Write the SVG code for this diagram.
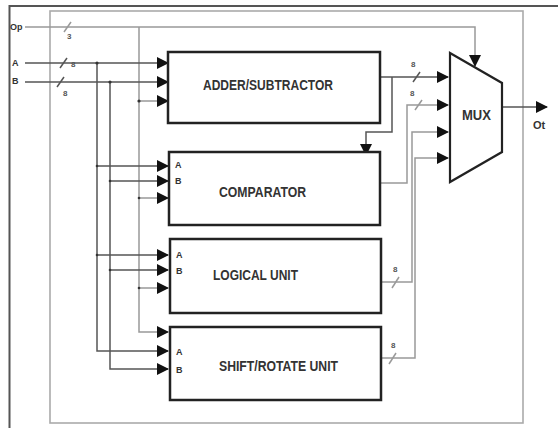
<svg xmlns="http://www.w3.org/2000/svg" width="558" height="428" viewBox="0 0 558 428">
<style>
.box{fill:#fff;stroke:#222;stroke-width:2.5}
.w{fill:none;stroke:#555;stroke-width:1.5}
.g{fill:none;stroke:#999;stroke-width:1.5}
.a{marker-end:url(#ah)}
.t{font-family:"Liberation Sans",Arial,sans-serif;font-weight:bold;fill:#333}
.lbl{font-size:14px}
.sm{font-size:8px;fill:#555}
.pin{font-size:9px}
.dot{fill:#333}
</style>
<defs>
<marker id="ah" markerUnits="userSpaceOnUse" markerWidth="12" markerHeight="12" refX="11" refY="6" orient="auto">
<path d="M0,0 L12,6 L0,12 z" fill="#111"/>
</marker>
</defs>
<rect x="0" y="0" width="558" height="428" fill="#fff"/>
<g id="frames">
<path d="M9.5,432 V6 H560" fill="none" stroke="#555" stroke-width="2"/>
<rect x="50" y="11" width="473" height="412" fill="none" stroke="#aaa" stroke-width="1.6"/>
</g>
<g id="connectors">
<path class="g a" d="M25,27 H475 V66"/>
<path class="g" d="M64,32 L71,22"/>
<text class="t sm" x="67" y="39">3</text>
<path class="g a" d="M139,27 V332 H168"/>
<path class="g a" d="M139,101 H168"/>
<path class="g a" d="M139,198 H168"/>
<path class="g a" d="M139,288 H168"/>
<path class="w a" d="M25,63 H168"/>
<path class="w" d="M60,68 L67,58"/>
<text class="t sm" x="71" y="67">8</text>
<path class="w a" d="M97,63 V351 H168"/>
<path class="w a" d="M97,166 H168"/>
<path class="w a" d="M97,255 H168"/>
<path class="w a" d="M25,82 H168"/>
<path class="w" d="M57,87 L64,77"/>
<text class="t sm" x="63" y="96">8</text>
<path class="w a" d="M110,82 V369 H168"/>
<path class="w a" d="M110,181 H168"/>
<path class="w a" d="M110,270 H168"/>
<path class="w a" d="M380,77 H448"/>
<path class="w" d="M413,82 L420,72"/>
<text class="t sm" x="411" y="67">8</text>
<path class="w a" d="M392,77 V132 H366 V155"/>
<path class="g a" d="M381,183 H407 V105 H448"/>
<path class="g" d="M415,110 L422,100"/>
<text class="t sm" x="410" y="96">8</text>
<path class="g a" d="M381,282 H412 V132 H448"/>
<path class="g" d="M392,288 L399,277"/>
<text class="t sm" x="393" y="272">8</text>
<path class="g a" d="M381,358 H415 V158 H448"/>
<path class="g" d="M389,364 L396,353"/>
<text class="t sm" x="391" y="348">8</text>
<path class="w a" d="M502,107 H547"/>
</g>
<g id="dots">
<circle class="dot" cx="97" cy="63" r="1.6"/>
<circle class="dot" cx="110" cy="82" r="1.6"/>
<circle class="dot" cx="139" cy="101" r="1.6"/>
<circle class="dot" cx="97" cy="166" r="1.3"/>
<circle class="dot" cx="110" cy="181" r="1.3"/>
<circle class="dot" cx="139" cy="198" r="1.3"/>
<circle class="dot" cx="97" cy="255" r="1.3"/>
<circle class="dot" cx="110" cy="270" r="1.3"/>
<circle class="dot" cx="139" cy="288" r="1.3"/>
</g>
<g id="labels">
<text class="t pin" x="10" y="30">Op</text>
<text class="t pin" x="12" y="66">A</text>
<text class="t pin" x="12" y="84">B</text>
<text class="t" x="533" y="129" font-size="11">Ot</text>
</g>
<g id="adder">
<rect class="box" x="168" y="52" width="212" height="71"/>
<text class="t lbl" x="203" y="90" textLength="130" lengthAdjust="spacingAndGlyphs">ADDER/SUBTRACTOR</text>
</g>
<g id="comparator">
<rect class="box" x="169" y="152" width="211" height="73"/>
<text class="t pin" x="175" y="168">A</text>
<text class="t pin" x="175" y="184">B</text>
<text class="t lbl" x="219" y="197" textLength="87" lengthAdjust="spacingAndGlyphs">COMPARATOR</text>
</g>
<g id="logical">
<rect class="box" x="170" y="239" width="211" height="74"/>
<text class="t pin" x="176" y="258">A</text>
<text class="t pin" x="176" y="274">B</text>
<text class="t lbl" x="213" y="280" textLength="85" lengthAdjust="spacingAndGlyphs">LOGICAL UNIT</text>
</g>
<g id="shift">
<rect class="box" x="170" y="327" width="211" height="73"/>
<text class="t pin" x="176" y="355">A</text>
<text class="t pin" x="176" y="373">B</text>
<text class="t lbl" x="219" y="371" textLength="119" lengthAdjust="spacingAndGlyphs">SHIFT/ROTATE UNIT</text>
</g>
<g id="mux">
<path d="M450,53 L502,83 L502,152 L450,182 z" fill="#fff" stroke="#222" stroke-width="2.2"/>
<text class="t lbl" x="462" y="120" textLength="29" lengthAdjust="spacingAndGlyphs">MUX</text>
</g>
</svg>
